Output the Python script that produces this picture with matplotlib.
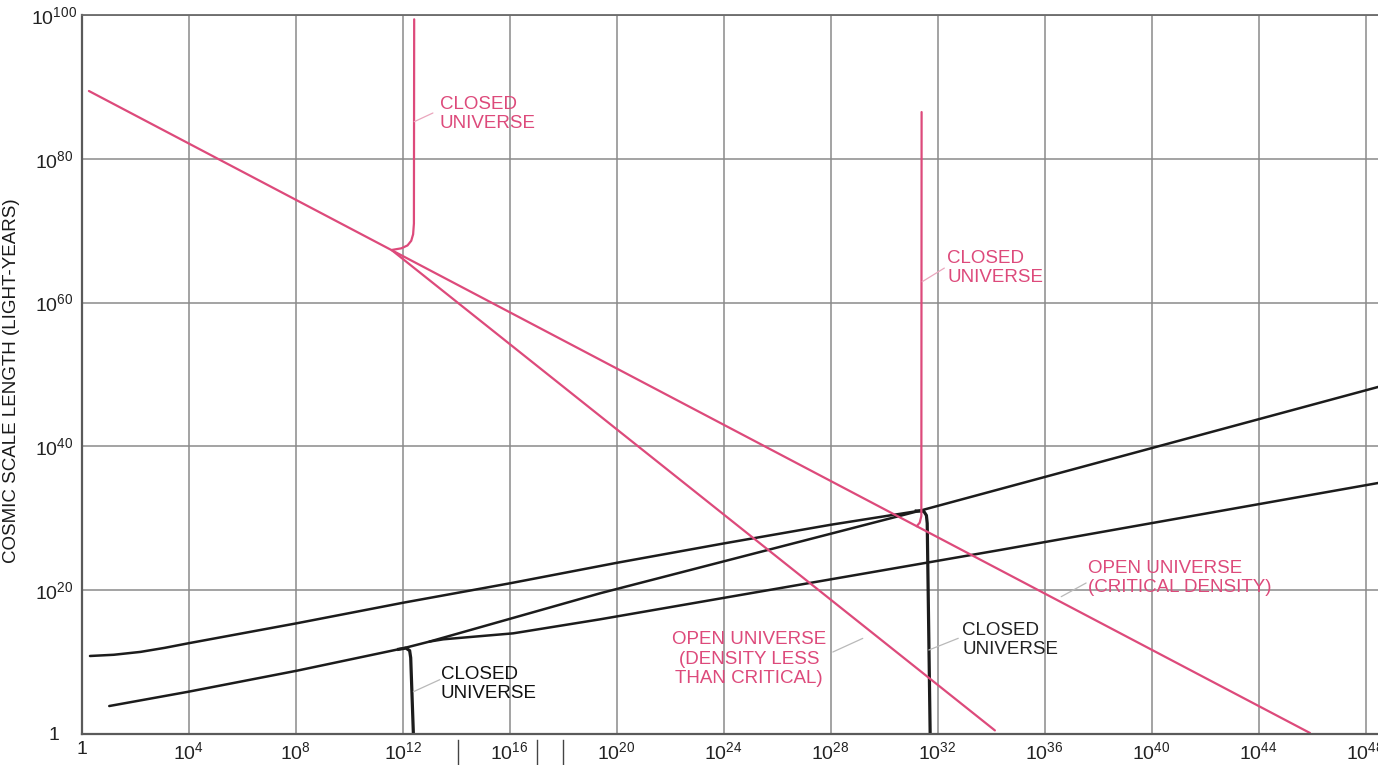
import matplotlib
matplotlib.use("Agg")
import matplotlib.pyplot as plt
from matplotlib.lines import Line2D

plt.rcParams['font.family'] = ['Liberation Sans', 'DejaVu Sans']

# ---------------------------------------------------------------
# Data: every curve is given as log10(time) / log10(scale length)
# ---------------------------------------------------------------
x_tick_exps = [0, 4, 8, 12, 16, 20, 24, 28, 32, 36, 40, 44, 48]
y_tick_exps = [0, 20, 40, 60, 80, 100]

# pink family
critical_lx = [0.27, 45.92]
critical_ly = [89.43, 0.14]
less_than_critical_lx = [11.60, 34.14]
less_than_critical_ly = [67.27, 0.50]
pink_closed_early_lx = [11.59, 11.95, 12.18, 12.32, 12.39, 12.42, 12.43]
pink_closed_early_ly = [67.32, 67.55, 67.95, 68.60, 69.50, 71.00, 99.40]
pink_closed_late_lx = [31.22, 31.33, 31.39, 31.40]
pink_closed_late_ly = [28.90, 29.40, 30.30, 86.50]

# black family
upper_lx = [0.31, 1.20, 2.20, 3.10, 3.99, 8.04, 12.02, 16.01, 20.02, 24.00, 28.00, 31.34]
upper_ly = [10.85, 11.02, 11.42, 11.98, 12.62, 15.40, 18.26, 20.96, 23.82, 26.50, 29.10, 31.06]
steep_lx = [1.03, 3.99, 8.04, 12.02, 13.00, 19.38, 31.34, 48.50]
steep_ly = [3.89, 5.88, 8.80, 11.92, 12.85, 19.57, 31.06, 48.30]
lower_lx = [13.00, 13.52, 16.13, 19.38, 34.33, 48.50]
lower_ly = [12.85, 13.17, 14.00, 15.95, 25.59, 34.93]
black_closed_early_lx = [11.85, 12.12, 12.26, 12.30, 12.40]
black_closed_early_ly = [11.78, 11.95, 11.60, 10.60, 0.00]
black_closed_late_lx = [31.20, 31.48, 31.58, 31.61, 31.72]
black_closed_late_ly = [31.02, 30.98, 30.40, 29.30, 0.00]

PINK = '#dd4a7b'
INK = '#1c1c1c'
GRID = '#8a8a8a'
LEADER = '#b9b9b9'


def pts(lx, ly):
    return [10.0 ** v for v in lx], [10.0 ** v for v in ly]


def P(lx, ly):
    return (10.0 ** lx, 10.0 ** ly)


W, H = 1378, 765
fig = plt.figure(figsize=(W / 100, H / 100), dpi=100)
ax = fig.add_axes([81.7 / W, (H - 734) / H, (1379 - 81.7) / W, (734 - 15) / H])
ax.set_xscale('log')
ax.set_yscale('log')
ax.set_xlim(1, 10 ** 48.5)
ax.set_ylim(1, 1e100)

ax.set_xticks([10.0 ** e for e in x_tick_exps])
ax.set_xticklabels(['1'] + [r'$\mathregular{10^{%d}}$' % e for e in x_tick_exps[1:]])
ax.set_yticks([10.0 ** e for e in y_tick_exps])
ax.set_yticklabels(['1'] + [r'$\mathregular{10^{%d}}$' % e for e in y_tick_exps[1:]])
ax.minorticks_off()
ax.tick_params(axis='x', length=0, pad=5, labelsize=14, labelcolor='#222222')
ax.tick_params(axis='y', length=0, pad=20, labelsize=14, labelcolor='#222222')
for lab in ax.get_yticklabels():
    lab.set_horizontalalignment('center')

ax.grid(True, which='major', color=GRID, lw=1.1)
ax.set_axisbelow(True)
for side in ('left', 'bottom'):
    ax.spines[side].set_color('#5a5a5a')
    ax.spines[side].set_linewidth(1.6)
ax.spines['top'].set_color('#6a6a6a')
ax.spines['top'].set_linewidth(1.3)
ax.spines['right'].set_visible(False)

ax.set_ylabel('COSMIC SCALE LENGTH (LIGHT-YEARS)', fontsize=13.5, color='#1a1a1a')
ax.yaxis.set_label_coords(-0.0476, 0.492)

# black curves
kw_black = dict(color=INK, lw=1.8, solid_capstyle='round', solid_joinstyle='round')
ax.plot(*pts(upper_lx, upper_ly), **kw_black)
ax.plot(*pts(steep_lx, steep_ly), **kw_black)
ax.plot(*pts(lower_lx, lower_ly), **kw_black)
ax.plot(*pts(black_closed_early_lx, black_closed_early_ly), color=INK, lw=2.3,
        solid_joinstyle='round')
ax.plot(*pts(black_closed_late_lx, black_closed_late_ly), color=INK, lw=2.3,
        solid_joinstyle='round')

# pink curves
kw_pink = dict(color=PINK, lw=1.6, solid_capstyle='round', solid_joinstyle='round')
ax.plot(*pts(critical_lx, critical_ly), **kw_pink)
ax.plot(*pts(less_than_critical_lx, less_than_critical_ly), **kw_pink)
ax.plot(*pts(pink_closed_early_lx, pink_closed_early_ly), **kw_pink)
ax.plot(*pts(pink_closed_late_lx, pink_closed_late_ly), **kw_pink)

# labels with thin leader lines
lab_kw = dict(fontsize=13.5, linespacing=1.2, va='center')


def leader(start, end, color):
    ax.annotate('', xy=P(*end), xytext=P(*start),
                arrowprops=dict(arrowstyle='-', color=color, lw=0.9,
                                shrinkA=0, shrinkB=0))


ax.text(*P(13.39, 86.25), 'CLOSED\nUNIVERSE', color=PINK, ha='left', **lab_kw)
leader((13.13, 86.37), (12.43, 85.16), '#eaa6bd')

ax.text(*P(32.36, 64.8), 'CLOSED\nUNIVERSE', color=PINK, ha='left', **lab_kw)
leader((32.25, 64.8), (31.42, 62.9), '#eaa6bd')

ax.text(*P(37.62, 21.7), 'OPEN UNIVERSE\n(CRITICAL DENSITY)', color=PINK,
        ha='left', **lab_kw)
leader((37.55, 21.0), (36.62, 19.1), LEADER)

ax.text(*P(24.94, 10.43), 'OPEN UNIVERSE\n(DENSITY LESS\nTHAN CRITICAL)', color=PINK,
        ha='center', multialignment='center', **lab_kw)
leader((28.08, 11.4), (29.2, 13.3), LEADER)

ax.text(*P(13.43, 6.95), 'CLOSED\nUNIVERSE', color='#111111', ha='left', **lab_kw)
leader((13.39, 7.56), (12.40, 5.88), LEADER)

ax.text(*P(32.92, 13.07), 'CLOSED\nUNIVERSE', color='#222222', ha='left', **lab_kw)
leader((32.77, 13.31), (31.67, 11.68), LEADER)

# small marks under the time axis
for xp in (458, 537, 563):
    fig.add_artist(Line2D([xp / W, xp / W], [0, 25 / H], color='#444444', lw=1.0))

fig.savefig('out.png', dpi=100)
